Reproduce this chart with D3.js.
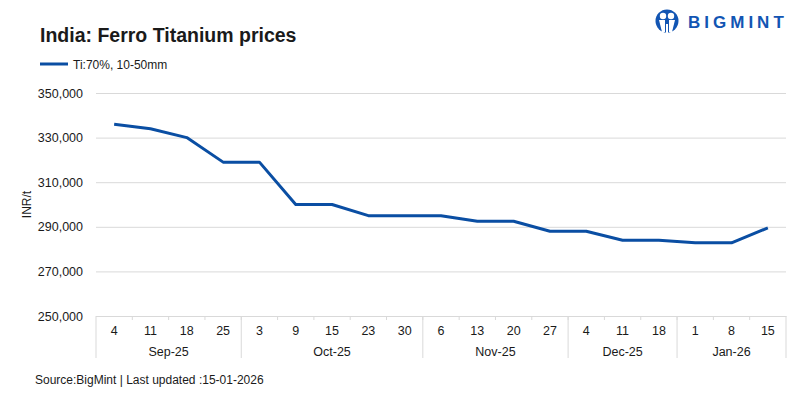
<!DOCTYPE html>
<html>
<head>
<meta charset="utf-8">
<script src="https://cdn.jsdelivr.net/npm/d3@7"></script>
<style>
  body { margin: 0; background: #fff; }
  svg text { font-family: "Liberation Sans", Arial, sans-serif; fill: #1a1a1a; }
</style>
</head>
<body>
<div class="chart"></div>
<script>
//----Data----
const dates = ["4", "11", "18", "25", "3", "9", "15", "23", "30", "6", "13", "20", "27", "4", "11", "18", "1", "8", "15"];
const months = ["Sep-25", "Sep-25", "Sep-25", "Sep-25", "Oct-25", "Oct-25", "Oct-25", "Oct-25", "Oct-25",
    "Nov-25", "Nov-25", "Nov-25", "Nov-25", "Dec-25", "Dec-25", "Dec-25", "Jan-26", "Jan-26", "Jan-26"];
const prices = [336000, 334000, 330000, 319000, 319000, 300000, 300000, 295000, 295000, 295000,
    292500, 292500, 288000, 288000, 284000, 284000, 282800, 282800, 289500];
const yTicks = [250000, 270000, 290000, 310000, 330000, 350000];
const seriesName = "Ti:70%, 10-50mm";

//----Chart Initialization----
const width = 800, height = 398;
const margin = ({top: 93, right: 14, bottom: 82, left: 96});

const svg = d3.select(".chart").append("svg")
    .attr("width", width)
    .attr("height", height);

const keys = dates.map((d, i) => i);

const xScale = d3.scaleBand()
    .domain(keys)
    .range([margin.left, width - margin.right])
    .paddingInner(0)
    .paddingOuter(0);

const yScale = d3.scaleLinear()
    .domain([250000, 350000])
    .range([height - margin.bottom, margin.top]);

const lineColor = "#0a4ea3";
const gridColor = "#d9d9d9";

// gridlines + y labels
const yAxis = d3.axisLeft(yScale)
    .tickValues(yTicks)
    .tickSize(-(width - margin.right - margin.left))
    .tickFormat(d3.format(","));

svg.append("g")
    .attr("class", "axis y-axis")
    .attr("transform", `translate(${margin.left},0)`)
    .call(yAxis)
    .call(g => g.select(".domain").remove())
    .call(g => g.selectAll(".tick line").attr("stroke", gridColor))
    .call(g => g.selectAll(".tick text").attr("x", -13).attr("font-size", 12.5).attr("fill", "#1a1a1a"));

svg.append("text")
    .attr("class", "y label")
    .attr("text-anchor", "middle")
    .attr("transform", `translate(31,${(yScale(250000) + yScale(350000)) / 2}) rotate(-90)`)
    .attr("font-size", 12)
    .text("INR/t");

// x axis (day labels)
const baseY = yScale(250000);
const xAxis = d3.axisBottom(xScale)
    .tickSize(0)
    .tickFormat(i => dates[i]);

svg.append("g")
    .attr("class", "axis x-axis")
    .attr("transform", `translate(0,${baseY})`)
    .call(xAxis)
    .call(g => g.select(".domain").attr("stroke", gridColor))
    .call(g => g.selectAll(".tick text").attr("y", 10).attr("dy", "0.71em").attr("font-size", 12.5).attr("fill", "#1a1a1a"));

// small ticks at category boundaries
svg.append("g")
    .selectAll("line")
    .data(keys.slice(1))
    .join("line")
    .attr("x1", d => xScale(d))
    .attr("x2", d => xScale(d))
    .attr("y1", baseY)
    .attr("y2", baseY + 4)
    .attr("stroke", gridColor);

// month groups
const groups = [];
months.forEach((m, i) => {
    const last = groups[groups.length - 1];
    if (last && last.name === m) last.end = i;
    else groups.push({name: m, start: i, end: i});
});

const sepX = [xScale(0)].concat(groups.map(g => xScale(g.end) + xScale.bandwidth()));
svg.append("g")
    .selectAll("line")
    .data(sepX)
    .join("line")
    .attr("x1", d => d)
    .attr("x2", d => d)
    .attr("y1", baseY)
    .attr("y2", baseY + 42)
    .attr("stroke", gridColor);

svg.append("g")
    .selectAll("text")
    .data(groups)
    .join("text")
    .attr("x", g => (xScale(g.start) + xScale(g.end) + xScale.bandwidth()) / 2)
    .attr("y", baseY + 40)
    .attr("text-anchor", "middle")
    .attr("font-size", 12.5)
    .text(g => g.name);

// price line
const line = d3.line()
    .x((d, i) => xScale(i) + xScale.bandwidth() / 2)
    .y(d => yScale(d));

svg.append("path")
    .datum(prices)
    .attr("fill", "none")
    .attr("stroke", lineColor)
    .attr("stroke-width", 3)
    .attr("stroke-linejoin", "round")
    .attr("d", line);

// title + legend
svg.append("text")
    .attr("x", 40)
    .attr("y", 42)
    .attr("font-size", 19.5)
    .attr("font-weight", "bold")
    .attr("fill", "#000")
    .text("India: Ferro Titanium prices");

svg.append("line")
    .attr("x1", 40).attr("x2", 68)
    .attr("y1", 64).attr("y2", 64)
    .attr("stroke", lineColor)
    .attr("stroke-width", 3);

svg.append("text")
    .attr("x", 73)
    .attr("y", 68.5)
    .attr("font-size", 12)
    .text(seriesName);

// source
svg.append("text")
    .attr("x", 35)
    .attr("y", 384)
    .attr("font-size", 12)
    .text("Source:BigMint | Last updated :15-01-2026");

// logo
const logo = svg.append("g").attr("transform", "translate(667,21)");
logo.append("circle").attr("r", 11.5).attr("fill", "#1255b3");
logo.append("circle").attr("cx", -4).attr("cy", -5).attr("r", 3.2).attr("fill", "#fff");
logo.append("circle").attr("cx", 4).attr("cy", -5).attr("r", 3.2).attr("fill", "#fff");
logo.append("path")
    .attr("d", "M-8,-1 L-2,-1 L-2,11 L-5,11 Z M2,-1 L8,-1 L5,11 L2,11 Z")
    .attr("fill", "#fff");
logo.append("rect").attr("x", -1).attr("y", 3).attr("width", 2).attr("height", 9).attr("fill", "#fff");

svg.append("text")
    .attr("x", 688)
    .attr("y", 28)
    .attr("font-size", 17)
    .attr("font-weight", "bold")
    .attr("letter-spacing", 4)
    .attr("fill", "#1255b3")
    .style("fill", "#1255b3")
    .text("BIGMINT");
</script>
</body>
</html>
